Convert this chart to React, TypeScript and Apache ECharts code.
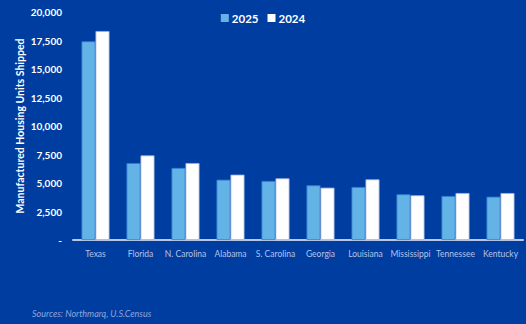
import React, { useEffect, useRef } from "react";
import * as echarts from "echarts";

const categories = ["Texas", "Florida", "N. Carolina", "Alabama", "S. Carolina", "Georgia", "Louisiana", "Mississippi", "Tennessee", "Kentucky"];
const values2025 = [17430, 6750, 6320, 5290, 5180, 4800, 4650, 4010, 3860, 3800];
const values2024 = [18330, 7420, 6750, 5730, 5410, 4590, 5320, 3920, 4120, 4120];
const seriesNames = ["2025", "2024"];
const yTicks = { min: 0, max: 20000, interval: 2500 };
const sourceText = "Sources: Northmarq, U.S.Census";
const yTitle = "Manufactured Housing Units Shipped";

export default function App() {
  const ref = useRef<HTMLDivElement>(null);
  useEffect(() => {
    if (!ref.current) return;
    const chart = echarts.init(ref.current, null, { renderer: "svg" });
    chart.setOption({
      animation: false,
      backgroundColor: "#003da1",
      textStyle: { fontFamily: "Lato" },
      legend: {
        top: 7,
        left: "center",
        itemWidth: 8,
        itemHeight: 8,
        itemGap: 9,
        icon: "rect",
        itemStyle: { borderWidth: 0 },
        textStyle: { color: "#ffffff", fontWeight: "bold", fontSize: 11.5, fontFamily: "Lato", padding: [0, 0, 0, -2] },
        data: seriesNames,
      },
      grid: { left: 73, right: 3, top: 12, bottom: 84, containLabel: false },
      xAxis: {
        type: "category",
        data: categories,
        axisLine: { lineStyle: { color: "#b9c6e4", width: 2 } },
        axisTick: { show: false },
        axisLabel: { color: "#b4c3e8", fontSize: 8.5, margin: 9, interval: 0, fontFamily: "Lato" },
      },
      yAxis: {
        type: "value",
        min: yTicks.min,
        max: yTicks.max,
        interval: yTicks.interval,
        splitLine: { show: false },
        axisLine: { show: false },
        axisTick: { show: false },
        axisLabel: {
          color: "#ffffff",
          fontWeight: "bold",
          fontSize: 10,
          margin: 11,
          fontFamily: "Lato",
          formatter: (v: number) => (v === 0 ? "-" : v.toLocaleString("en-US")),
        },
        name: yTitle,
        nameLocation: "middle",
        nameGap: 48,
        nameMoveOverlap: false,
        nameRotate: 90,
        nameTextStyle: { color: "#ffffff", fontWeight: "bold", fontSize: 10.5, fontFamily: "Lato" },
      },
      series: [
        {
          name: seriesNames[0],
          type: "bar",
          data: values2025,
          barWidth: 14,
          barGap: "0%",
          itemStyle: { color: "#63b3e6", borderColor: "#2f7fcf", borderWidth: 0.8 },
        },
        {
          name: seriesNames[1],
          type: "bar",
          data: values2024,
          barWidth: 14,
          itemStyle: { color: "#ffffff", borderColor: "#9fb3dd", borderWidth: 0.8 },
        },
      ],
      graphic: [
        {
          type: "text",
          left: 32,
          top: 309,
          style: { text: sourceText, fill: "#8ea6da", fontSize: 9, fontStyle: "italic", fontFamily: "Lato" },
        },
      ],
    });
    return () => chart.dispose();
  }, []);
  return <div ref={ref} style={{ width: 526, height: 324, position: "fixed", left: 0, top: 0 }} />;
}
